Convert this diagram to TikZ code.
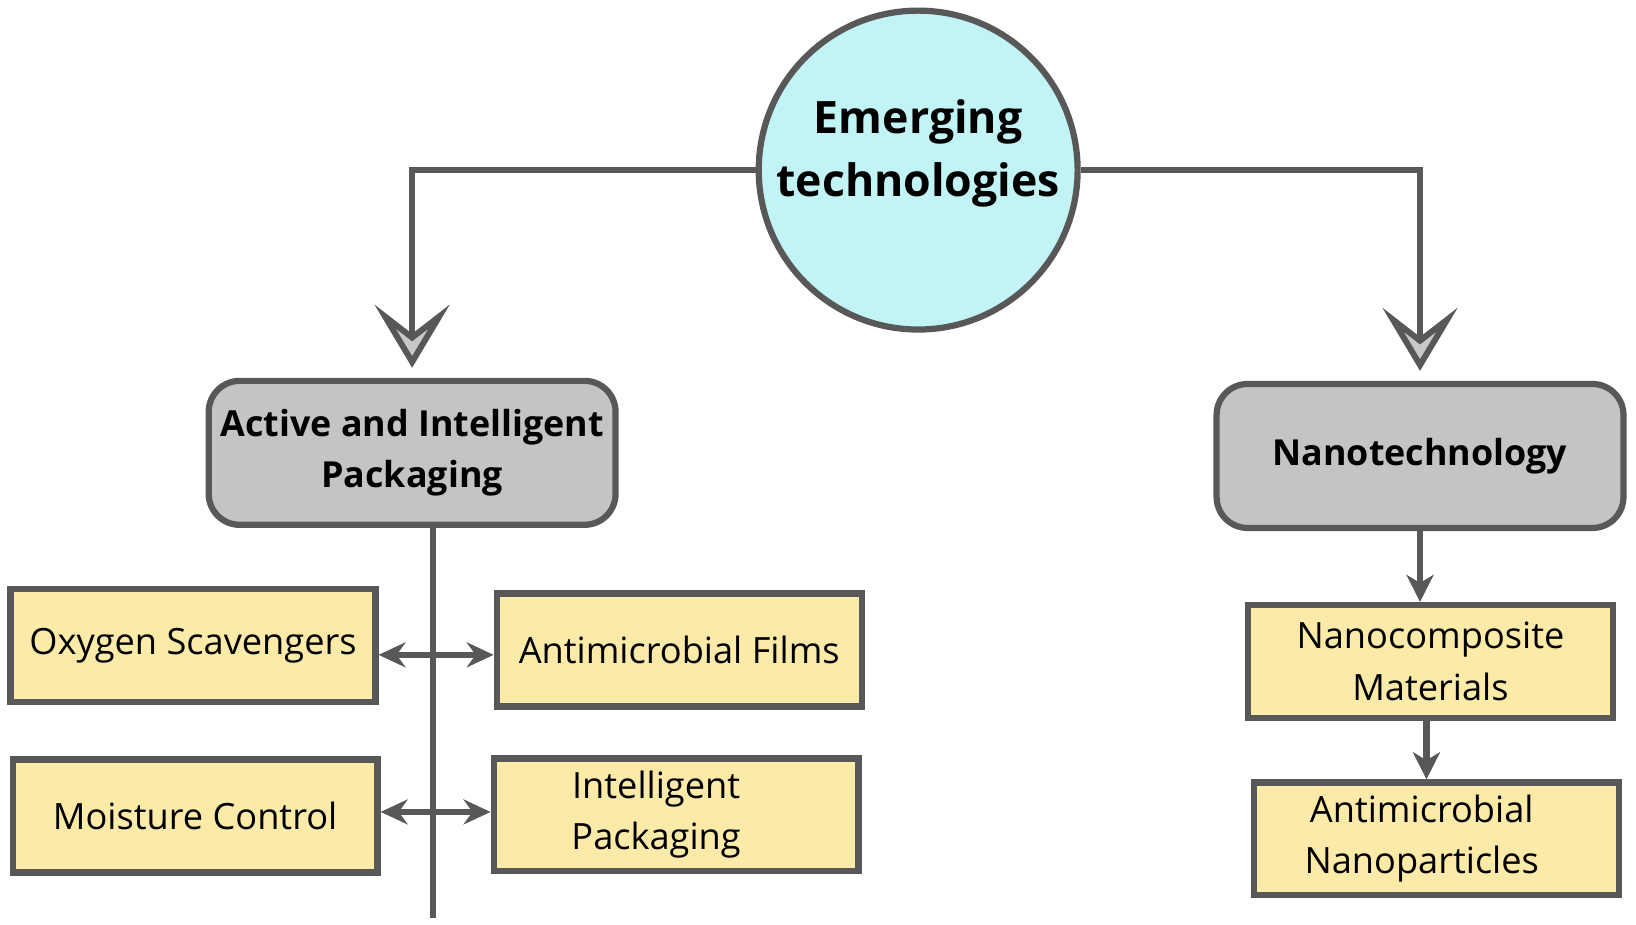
\documentclass[tikz,border=0pt]{standalone}
\usepackage{fontspec}
\setmainfont{Open Sans}
\usetikzlibrary{arrows.meta}
\definecolor{edgegray}{HTML}{585858}
\definecolor{roundcyan}{HTML}{C2F3F5}
\definecolor{topicgray}{HTML}{C4C4C4}
\definecolor{leafyellow}{HTML}{FCEAA9}
\definecolor{tipgray}{HTML}{C8C8C8}

\begin{document}
\begin{tikzpicture}[x=0.010434cm, y=-0.010434cm,
        every node/.style = {draw=edgegray, line width=1.77pt, align=center},
        topic/.style = {shape=rectangle, rounded corners=0.31cm, fill=topicgray,
                        minimum width=4.07cm, minimum height=1.44cm,
                        font=\bfseries\fontsize{10.2}{14.6}\selectfont},
        leaf/.style = {shape=rectangle, fill=leafyellow,
                       minimum width=3.65cm, minimum height=1.13cm,
                       font=\fontsize{10.3}{14.6}\selectfont},
        link/.style = {draw=edgegray, line width=1.88pt},
        bigtip/.style = {-{Stealth[length=0.63cm, width=0.75cm, inset=0.29cm,
                           fill=tipgray, line width=1.7pt]}},
        smalltip/.style = {-{Stealth[length=0.27cm, width=0.27cm, inset=0.08cm]}},
        bothtips/.style = {{Stealth[length=0.27cm, width=0.25cm, inset=0.09cm]}-{Stealth[length=0.27cm, width=0.25cm, inset=0.09cm]}}]
    \useasboundingbox (0,0) rectangle (1568,886);
    \node[shape=circle, fill=roundcyan, minimum size=3.19cm, inner sep=0pt,
          text depth=0.44cm,
          font=\bfseries\fontsize{12.7}{17.7}\selectfont] (emerg) at (880,163) {Emerging\\technologies};
    \node[topic] (aip) at (395,434) {Active and Intelligent\\Packaging};
    \node[topic] (nano) at (1361,437) {Nanotechnology};
    \node[leaf] (oxy) at (185,619) {Oxygen Scavengers};
    \node[leaf] (amf) at (651,623) {Antimicrobial Films};
    \node[leaf] (moist) at (187,782) {Moisture Control};
    \node[leaf] (intp) at (648,781) {\hspace*{-0.4cm}Intelligent\\\hspace*{-0.4cm}Packaging};
    \node[leaf] (ncm) at (1371,634) {Nanocomposite\\Materials};
    \node[leaf] (anp) at (1377,804) {\hspace*{-0.3cm}Antimicrobial\\\hspace*{-0.3cm}Nanoparticles};
    \coordinate (stem) at (415,880);
    % top level
    \draw[link, bigtip, shorten >=0.1cm] (emerg.west) -| (aip.north);
    \draw[link, bigtip, shorten >=0.1cm] (emerg.east) -| (nano.north);
    % left branch
    \draw[link] (aip.south -| stem) -- (stem);
    \draw[link, line width=1.56pt, bothtips]
        ([yshift=-0.09cm]oxy.east) -- ([yshift=-0.09cm]oxy.east -| amf.west);
    \draw[link, line width=1.56pt, bothtips]
        ([yshift=0.04cm]moist.east) -- ([yshift=0.04cm]moist.east -| intp.west);
    % right branch
    \draw[link, smalltip] (nano.south) -- (nano.south |- ncm.north);
    \draw[link, smalltip] ([xshift=-0.04cm]ncm.south) -- ([xshift=-0.04cm]ncm.south |- anp.north);
\end{tikzpicture}
\end{document}
